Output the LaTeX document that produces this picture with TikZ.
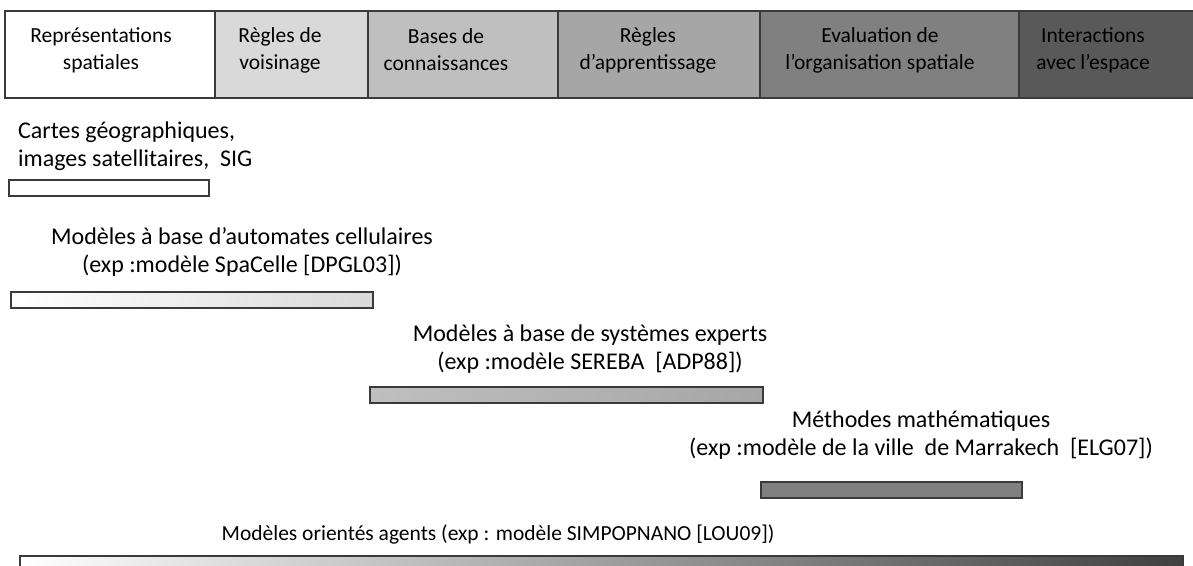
\documentclass[tikz,border=0pt]{standalone}
\usepackage{fontspec}
\setmainfont{Carlito}

\definecolor{edge}{HTML}{3A3A3A}
\definecolor{greyA}{HTML}{D9D9D9}
\definecolor{greyB}{HTML}{BFBFBF}
\definecolor{greyC}{HTML}{A6A6A6}
\definecolor{greyD}{HTML}{808080}
\definecolor{greyE}{HTML}{595959}

\tikzset{
  cell/.style={draw=edge, line width=1.6pt},
  bar/.style={draw=edge, line width=1.4pt},
  head/.style={align=center, inner sep=0pt, font=\fontsize{21.5}{27}\selectfont},
  lbl/.style={align=center, inner sep=0pt, font=\fontsize{24}{28}\selectfont}
}

\begin{document}
\begin{tikzpicture}[x=1pt, y=-1pt]

\useasboundingbox (0,0) rectangle (1193,565);

\draw [cell, fill=white] (5,11) rectangle (215,98);
\node [head] (repr) at (101,50) {Représentations\\spatiales};

\draw [cell, fill=greyA] (215,11) rectangle (368,98);
\node [head] (voisin) at (280,50) {Règles de\\voisinage};

\draw [cell, fill=greyB] (368,11) rectangle (558,98);
\node [head] (connais) at (446,50) {Bases de\\connaissances};

\draw [cell, fill=greyC] (558,11) rectangle (760,98);
\node [head] (apprent) at (648,50) {Règles\\d’apprentissage};

\draw [cell, fill=greyD] (760,11) rectangle (1019,98);
\node [head] (evalorg) at (880,50) {Evaluation de\\l’organisation spatiale};

\draw [cell, fill=greyE] (1019,11) rectangle (1198,98);
\node [head] (interact) at (1093,50) {Interactions\\avec l’espace};

\node [lbl, align=left, anchor=west] (cartes) at (18,146) {Cartes géographiques,\\images satellitaires,~ SIG};
\draw [bar, fill=white] (9,180) rectangle (209,196);

\node [lbl] (automates) at (242,252) {Modèles à base d’automates cellulaires\\(exp :modèle SpaCelle [DPGL03])};
\draw [bar, left color=white, right color=greyA] (11,292) rectangle (373,308);

\node [lbl] (experts) at (590,349) {Modèles à base de systèmes experts\\(exp :modèle SEREBA~ [ADP88])};
\draw [bar, left color=greyB, right color=greyC] (370,387) rectangle (763,403);

\node [lbl] (maths) at (921,435) {Méthodes mathématiques\\(exp :modèle de la ville~ de Marrakech~ [ELG07])};
\draw [bar, fill=greyD] (761,482) rectangle (1022,498);

\node [head] (agents) at (498,534) {Modèles orientés agents (exp : modèle SIMPOPNANO [LOU09])};
\draw [bar, left color=white, right color=black!75] (20,556) rectangle (1183,580);

\end{tikzpicture}
\end{document}
